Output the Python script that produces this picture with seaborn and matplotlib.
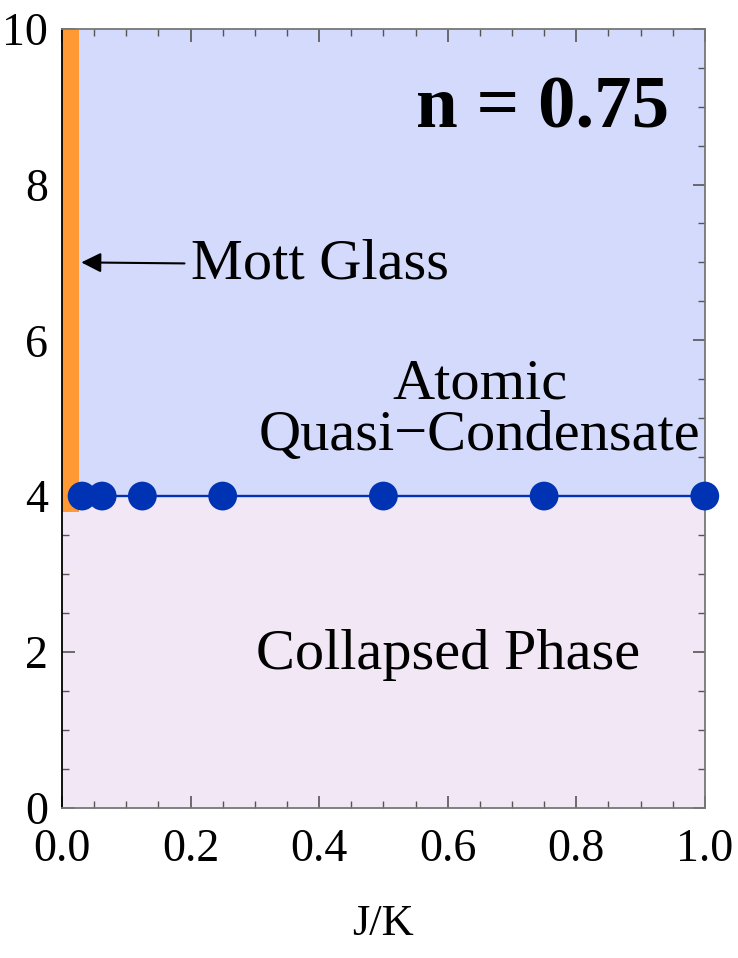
import numpy as np
import matplotlib as mpl
_ = mpl.use('Agg')
import matplotlib.pyplot as plt
import seaborn as sns
import pandas as pd

# phase boundary data (J/K vs U/K), n = 0.75
J = [0.03125, 0.0625, 0.125, 0.25, 0.5, 0.75, 1.0]
U_c = [4.0, 4.0, 4.0, 4.0, 4.0, 4.0, 4.0]
mott_J = 0.026      # width of Mott glass strip
mott_Umin = 3.8
x_range = [0.0, 1.0]
y_range = [0.0, 10.0]
x_ticks = [0.0, 0.2, 0.4, 0.6, 0.8, 1.0]
y_ticks = [0, 2, 4, 6, 8, 10]

sns.set_style('ticks')
plt.rcParams['font.family'] = ['Liberation Serif', 'DejaVu Serif']
plt.rcParams['text.color'] = 'black'
plt.rcParams['xtick.labelcolor'] = 'black'
plt.rcParams['ytick.labelcolor'] = 'black'
plt.rcParams['axes.labelcolor'] = 'black'

df = pd.DataFrame({'J': J, 'U': U_c})

fig = plt.figure(figsize=(7.38, 9.58), dpi=100)
ax = fig.add_axes([0.084, 0.157, 0.871, 0.813])

blue = '#d4dafc'
pink = '#f2e7f5'
orange = '#ff9933'
dark = '#0033b3'

ax.fill_between(x_range, [U_c[-1]] * 2, [y_range[1]] * 2, color=blue, lw=0, zorder=0)
ax.fill_between(x_range, [y_range[0]] * 2, [U_c[-1]] * 2, color=pink, lw=0, zorder=0)
ax.fill_between([0.0, mott_J], [mott_Umin] * 2, [y_range[1]] * 2, color=orange, lw=0, zorder=1)

sns.lineplot(data=df, x='J', y='U', color=dark, lw=1.7, ax=ax, zorder=2)
sns.scatterplot(data=df, x='J', y='U', color=dark, s=430, edgecolor='none', ax=ax, zorder=3, clip_on=False)

ax.set_xlim(x_range)
ax.set_ylim(y_range)
ax.set_xticks(x_ticks)
ax.set_xticklabels(['%.1f' % t for t in x_ticks])
ax.set_yticks(y_ticks)
ax.xaxis.set_minor_locator(mpl.ticker.MultipleLocator(0.05))
ax.yaxis.set_minor_locator(mpl.ticker.MultipleLocator(0.5))
ax.tick_params(which='both', direction='in', top=True, right=True, labelsize=33, color='#555555')
ax.tick_params(which='major', length=9, width=1.2)
ax.tick_params(which='minor', length=5, width=1.0)
ax.tick_params(axis='x', pad=15)
ax.tick_params(axis='y', pad=10)
for side in ['top', 'right', 'bottom']:
    ax.spines[side].set_color('#777777')
    ax.spines[side].set_linewidth(1.3)
ax.spines['left'].set_color('black')
ax.spines['left'].set_linewidth(1.3)

ax.set_xlabel('J/K', fontsize=32, labelpad=24)
ax.set_ylabel('')

ax.text(0.748, 8.96, 'n = 0.75', fontsize=54, fontweight='bold', ha='center', va='center')
ax.annotate('Mott Glass', xy=(0.03, 7.0), xytext=(0.2, 6.97), fontsize=42,
            ha='left', va='center',
            arrowprops=dict(arrowstyle='-|>', color='black', lw=1.5, mutation_scale=30,
                            shrinkA=2, shrinkB=0))
ax.text(0.65, 5.1, 'Atomic\nQuasi\u2212Condensate', fontsize=42, ha='center', va='center',
        linespacing=1.0)
ax.text(0.6, 1.96, 'Collapsed Phase', fontsize=42, ha='center', va='center')

plt.savefig('out.png', dpi=100)
